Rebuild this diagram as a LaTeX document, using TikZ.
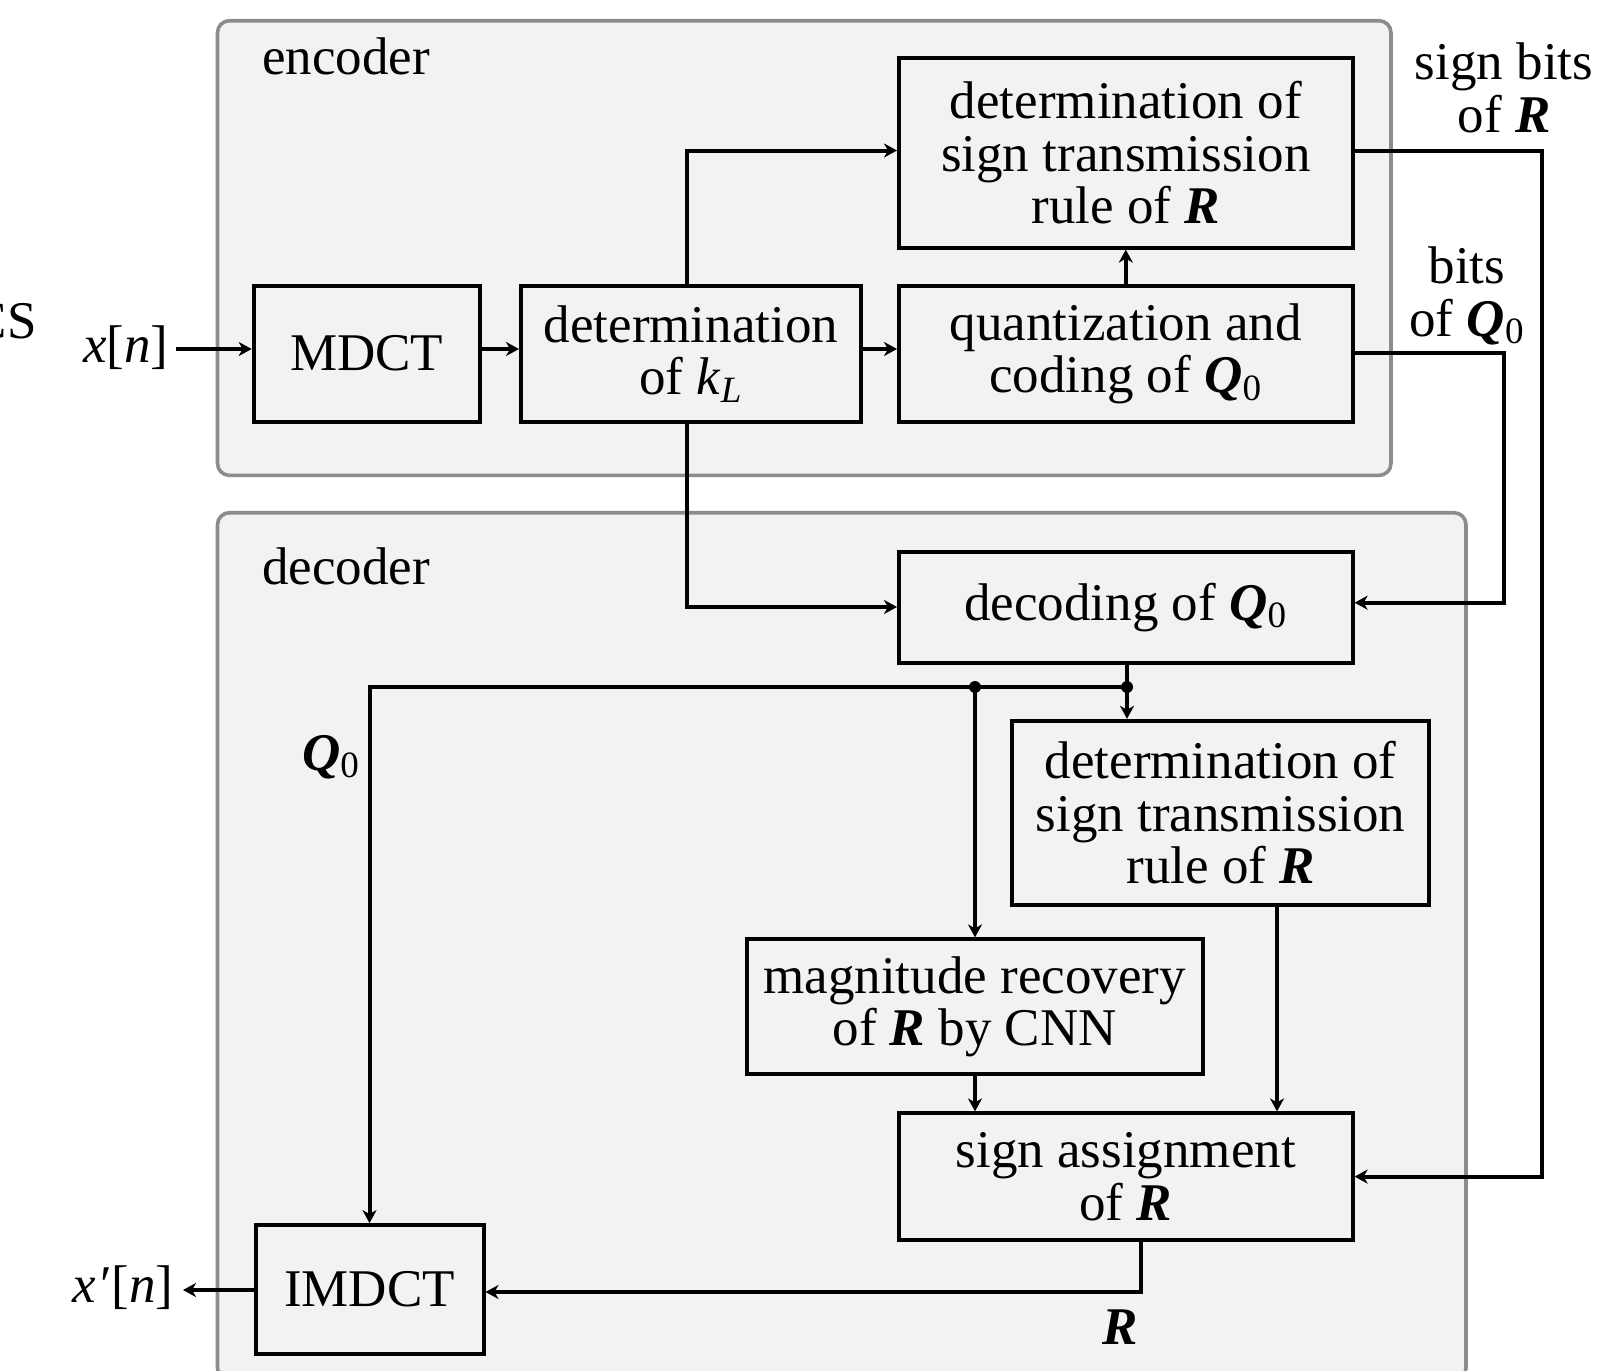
\documentclass[tikz,border=0pt]{standalone}
\usepackage{fontspec}
\setmainfont{Liberation Serif}
\usetikzlibrary{arrows.meta}
\definecolor{boxgray}{HTML}{F2F2F2}
\definecolor{grpborder}{HTML}{8C8C8C}
\newcommand{\Rb}{\textbf{\textit{R}}}
\newcommand{\Qz}{\textbf{\textit{Q}}\textsubscript{0}}
\begin{document}
\begin{tikzpicture}[x=0.5pt,y=-0.5pt,
  blk/.style={draw, line width=2pt, fill=boxgray, align=center, inner sep=0pt,
    font=\fontsize{26.5}{26.25}\selectfont},
  con/.style={line width=2pt, line join=miter},
  arr/.style={con, -{Stealth[length=6.5pt,width=7pt,inset=2pt]}},
  grp/.style={draw=grpborder, line width=1.8pt, fill=boxgray, rounded corners=6pt},
  lbl/.style={font=\fontsize{26.5}{26.25}\selectfont, align=center, inner sep=0pt},
  dot/.style={fill=black}]

\useasboundingbox (0,0) rectangle (1624,1371);
\fill[white] (0,0) rectangle (1624,1371);

% groups
\draw[grp] (217.5,20.7) rectangle (1391,475.4);
\draw[grp] (217.5,512.7) rectangle (1466,1380);

\node[lbl, anchor=base] (enc) at (346,74) {encoder};
\node[lbl, anchor=base] (decl) at (346,584) {decoder};

% clipped fragment at left edge (cut off in the reference too)
\node[lbl, anchor=base east] (frag) at (37,338) {CS};

% blocks
\node[blk, minimum width=112.9pt, minimum height=67.8pt] (mdct) at (366.6,353.7) {MDCT};
\node[blk, minimum width=169.9pt, minimum height=67.8pt] (kl) at (690.9,353.7)
  {determination\\of \textit{k}\textsubscript{\textit{L}}};
\node[blk, minimum width=226.8pt, minimum height=67.8pt] (qc) at (1125.8,353.7)
  {quantization and\\coding of \Qz};
\node[blk, minimum width=226.8pt, minimum height=94.8pt] (dst) at (1125.8,152.8)
  {determination of\\sign transmission\\rule of \Rb};
\node[blk, minimum width=226.8pt, minimum height=55.7pt] (dec) at (1125.8,607.3)
  {decoding of \Qz};
\node[blk, minimum width=208.7pt, minimum height=92.2pt] (dsd) at (1220.6,813)
  {determination of\\sign transmission\\rule of \Rb};
\node[blk, minimum width=227.9pt, minimum height=67.3pt] (mag) at (974.6,1006.7)
  {magnitude recovery\\of \Rb{} by CNN};
\node[blk, minimum width=226.8pt, minimum height=63.2pt] (sa) at (1125.8,1176.6)
  {sign assignment\\of \Rb};
\node[blk, minimum width=114pt, minimum height=64.4pt] (imd) at (369.5,1289.5) {IMDCT};

% outer labels
\node[lbl, anchor=base east] (xn) at (169,362) {\textit{x}[\textit{n}]};
\node[lbl, anchor=base east] (xon) at (174,1302) {\textit{x}\kern2pt′[\textit{n}]};
\node[lbl] (sbl) at (1504,88) {sign bits\\of \Rb};
\node[lbl] (bql) at (1467,296) {bits\\of \Qz};
\node[lbl, anchor=base] (q0l) at (331,770) {\Qz};
\node[lbl] (rl) at (1120,1327) {\Rb};

% coordinates
\coordinate (xin) at (176,349);
\coordinate (yA) at (0,349);
\coordinate (kx) at (687,150.5);
\coordinate (sb) at (1542,150.5);
\coordinate (qb) at (1503.5,353.3);
\coordinate (qd) at (1503.5,602.7);
\coordinate (kd) at (687,607);
\coordinate (j1) at (975,687);
\coordinate (j2) at (1127,687);
\coordinate (ql) at (369.5,687);
\coordinate (dx) at (1277,0);
\coordinate (rc) at (1141,1292);
\coordinate (xo) at (183,1290);

% connectors
\draw[arr] (xin) -- (xin -| mdct.west);
\draw[arr] (mdct.east |- yA) -- (kl.west |- yA);
\draw[arr] (kl.east |- yA) -- (qc.west |- yA);
\draw[arr] (kl.north -| kx) -- (kx) -- (kx -| dst.west);
\draw[arr] (qc.north) -- (dst.south);
\draw[arr] (dst.east |- sb) -- (sb) |- (sa.east);
\draw[arr] (qc.east |- qb) -- (qb) -- (qd) -- (qd -| dec.east);
\draw[arr] (kl.south -| kd) -- (kd) -- (kd -| dec.west);
\draw[arr] (dec.south -| j2) -- (j2 |- dsd.north);
\draw[arr] (j2) -- (ql) -- (ql |- imd.north);
\draw[arr] (j1) -- (j1 |- mag.north);
\draw[arr] (mag.south -| j1) -- (j1 |- sa.north);
\draw[arr] (dsd.south -| dx) -- (dx |- sa.north);
\draw[arr] (sa.south -| rc) -- (rc) -- (rc -| imd.east);
\draw[arr] (imd.west |- xo) -- (xo);

\fill[dot] (j1) circle[radius=3pt];
\fill[dot] (j2) circle[radius=3pt];
\end{tikzpicture}
\end{document}
